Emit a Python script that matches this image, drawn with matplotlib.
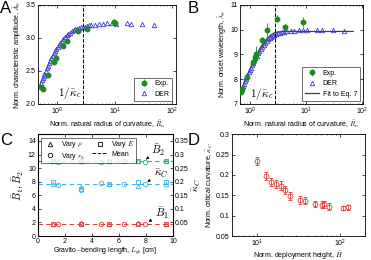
import numpy as np
import matplotlib.pyplot as plt

plt.rcParams['font.family'] = ['Liberation Sans', 'DejaVu Sans']
plt.rcParams['mathtext.fontset'] = 'cm'
plt.rcParams['font.size'] = 5

# panel A
a_exp_x = [0.53, 0.56, 0.69, 0.87, 0.97, 1.25, 1.49, 2.3, 3.25, 9.7, 10.0]
a_exp_y = [2.26, 2.23, 2.44, 2.64, 2.70, 2.88, 2.96, 3.10, 3.14, 3.24, 3.22]
a_exp_err = [0.03, 0.03, 0.03, 0.04, 0.03, 0.03, 0.04, 0.03, 0.03, 0.04, 0.03]
a_der_x = [0.50, 0.52, 0.54, 0.56, 0.58, 0.60, 0.63, 0.66, 0.69, 0.72, 0.75, 0.79,
           0.83, 0.87, 0.91, 0.96, 1.01, 1.07, 1.13, 1.20, 1.28, 1.36, 1.45, 1.55,
           1.66, 1.78, 1.92, 2.07, 2.23, 2.41, 2.60, 2.80, 3.00, 3.25, 3.55, 3.9,
           4.5, 5.4, 6.2, 7.4, 8.9, 10.4, 16, 19, 30, 48]
a_der_y = [2.28, 2.32, 2.36, 2.40, 2.43, 2.46, 2.50, 2.54, 2.58, 2.62, 2.65, 2.69,
           2.73, 2.77, 2.80, 2.84, 2.87, 2.90, 2.93, 2.96, 2.99, 3.01, 3.04, 3.06,
           3.08, 3.10, 3.12, 3.13, 3.14, 3.15, 3.16, 3.17, 3.17, 3.18, 3.19, 3.19,
           3.20, 3.21, 3.21, 3.22, 3.22, 3.21, 3.22, 3.21, 3.21, 3.20]

# panel B
b_exp_x = [0.70, 0.73, 0.91, 1.15, 1.26, 1.30, 1.65, 2.0, 3.07, 4.25, 8.9]
b_exp_y = [7.50, 7.60, 8.10, 8.70, 8.90, 9.00, 9.60, 9.97, 10.45, 10.12, 10.32]
b_exp_err = [0.08, 0.08, 0.08, 0.15, 0.2, 0.35, 0.12, 0.3, 0.15, 0.12, 0.2]
b_der_x = [0.72, 0.75, 0.78, 0.81, 0.84, 0.87, 0.91, 0.95, 0.99, 1.04, 1.09, 1.14,
           1.20, 1.26, 1.33, 1.40, 1.48, 1.57, 1.66, 1.76, 1.87, 1.99, 2.12, 2.26,
           2.41, 2.57, 2.75, 2.95, 3.17, 3.4, 3.7, 4.0,
           4.5, 5.4, 6.2, 7.4, 8.9, 10.4, 16, 19, 30, 48]
b_der_y = [7.62, 7.72, 7.82, 7.91, 8.00, 8.08, 8.18, 8.28, 8.37, 8.47, 8.57, 8.66,
           8.76, 8.85, 8.95, 9.04, 9.13, 9.22, 9.31, 9.39, 9.47, 9.54, 9.61, 9.67,
           9.72, 9.76, 9.80, 9.83, 9.85, 9.87, 9.89, 9.90,
           9.93, 9.95, 9.96, 9.98, 9.98, 10.0, 10.0, 9.99, 9.97, 9.95]
b_fit_x = [0.70, 0.8, 0.9, 1.0, 1.2, 1.4, 1.6, 1.8, 2.0, 2.3, 2.6, 3.0, 3.5, 4.0, 5.0, 70]
b_fit_y = [7.55, 7.88, 8.15, 8.40, 8.80, 9.10, 9.33, 9.50, 9.63, 9.76, 9.85, 9.90, 9.92, 9.93, 9.93, 9.93]
kc_inv = 2.8

# panel C
c_x_rho = [1.1, 3.2, 5.3, 7.4, 9.5]
c_x_E = [1.1, 3.2, 5.3, 7.4, 9.5]
c_x_r0 = [1.5, 3.2, 4.7, 6.4, 7.9]
b1_rho = [1.8, 1.9, 1.8, 1.9, 1.8]
b1_E = [1.8, 1.8, 1.8, 1.8, 1.8]
b1_r0 = [1.75, 1.8, 1.75, 1.8, 1.75]
b2_rho = [11.0, 11.1, 11.0, 11.1, 11.0]
b2_E = [11.0, 11.0, 11.0, 11.0, 11.0]
b2_r0 = [10.95, 11.0, 10.95, 11.0, 10.95]
kc_rho = [0.190, 0.180, 0.193, 0.183, 0.190]
kc_E = [0.198, 0.173, 0.192, 0.200, 0.200]
kc_r0 = [0.188, 0.170, 0.195, 0.190, 0.190]
b1_mean, b2_mean, kc_mean = 1.8, 11.0, 0.19

# panel D
d_H = [10, 12.8, 14.7, 16.8, 19.4, 21.9, 25.1, 33.1, 38, 50, 61, 65, 74, 109, 126]
d_kc = [0.235, 0.197, 0.183, 0.178, 0.174, 0.163, 0.148, 0.138, 0.137, 0.129,
        0.127, 0.128, 0.122, 0.119, 0.121]
d_err = [0.010, 0.010, 0.010, 0.010, 0.010, 0.010, 0.010, 0.010, 0.008, 0.008,
         0.008, 0.008, 0.008, 0.006, 0.006]

green = '#1a8c1a'
blue = '#3a3ad0'
red = '#e03c3c'
cgreen = '#2db36a'
cyan = '#3cb4e6'

fig = plt.figure(figsize=(3.71, 2.60), dpi=100)


def style(ax):
    ax.tick_params(direction='in', length=2, width=0.5, top=True, right=True, pad=1.5, labelsize=5)
    ax.tick_params(which='minor', direction='in', length=1, width=0.4, top=True, right=True)
    for s in ax.spines.values():
        s.set_linewidth(0.6)


# A
ax = fig.add_axes([0.102, 0.60, 0.372, 0.381])
ax.plot(a_der_x, a_der_y, '^', mfc='none', mec=blue, ms=3.2, mew=0.6, label='DER', zorder=2)
ax.errorbar(a_exp_x, a_exp_y, yerr=a_exp_err, fmt='o', color=green, ms=3.2, elinewidth=0.6,
            capsize=0, label='Exp.', zorder=3)
ax.axvline(kc_inv, color='k', ls='--', lw=0.7)
ax.text(kc_inv * 0.95, 2.04, r'$1/\bar{\kappa}_c$', fontsize=8, ha='right', va='bottom')
ax.set_xscale('log')
ax.set_xlim(0.46, 115)
ax.set_ylim(2, 3.5)
ax.set_yticks([2, 2.5, 3, 3.5])
ax.set_xlabel(r'Norm. natural radius of curvature, $\bar{R}_n$', labelpad=1)
ax.set_ylabel(r'Norm. characteristic amplitude, $\bar{A}_0$', labelpad=1)
h, l = ax.get_legend_handles_labels()
ax.legend(h[::-1], l[::-1], loc='lower right', fontsize=5, frameon=True, fancybox=False,
          edgecolor='k', handletextpad=0.5, borderpad=0.4).get_frame().set_linewidth(0.5)
style(ax)
fig.text(0.0, 0.995, 'A', fontsize=12, va='top')

# B
ax = fig.add_axes([0.647, 0.60, 0.332, 0.381])
ax.plot(b_fit_x, b_fit_y, '-', color='#404040', lw=0.9, label='Fit to Eq. 7', zorder=1)
ax.plot(b_der_x, b_der_y, '^', mfc='none', mec=blue, ms=3.2, mew=0.6, label='DER', zorder=2)
ax.errorbar(b_exp_x, b_exp_y, yerr=b_exp_err, fmt='o', color=green, ms=3.2, elinewidth=0.6,
            capsize=0, label='Exp.', zorder=3)
ax.axvline(kc_inv, color='k', ls='--', lw=0.7)
ax.text(kc_inv * 0.95, 7.1, r'$1/\bar{\kappa}_c$', fontsize=8, ha='right', va='bottom')
ax.set_xscale('log')
ax.set_xlim(0.67, 105)
ax.set_ylim(7, 11)
ax.set_yticks([7, 8, 9, 10, 11])
ax.set_xlabel(r'Norm. natural radius of curvature, $\bar{R}_n$', labelpad=1)
ax.set_ylabel(r'Norm. onset wavelength, $\bar{\lambda}_0$', labelpad=1)
h, l = ax.get_legend_handles_labels()
ax.legend(h[::-1], l[::-1], loc='lower right', fontsize=5, frameon=True, fancybox=False,
          edgecolor='k', handletextpad=0.5, borderpad=0.4).get_frame().set_linewidth(0.5)
style(ax)
fig.text(0.505, 0.995, 'B', fontsize=12, va='top')

# C
ax = fig.add_axes([0.102, 0.092, 0.364, 0.392])
ax2 = ax.twinx()
ax.axhline(b1_mean, color=red, ls='--', lw=0.8, dashes=(4, 3))
ax.axhline(b2_mean, color=cgreen, ls='--', lw=0.8, dashes=(4, 3))
ax2.axhline(kc_mean, color=cyan, ls='--', lw=0.8, dashes=(4, 3))
for col, axx, yr, ye, y0 in [(red, ax, b1_rho, b1_E, b1_r0), (cgreen, ax, b2_rho, b2_E, b2_r0),
                             (cyan, ax2, kc_rho, kc_E, kc_r0)]:
    axx.plot(c_x_rho, yr, '^', mfc='none', mec=col, ms=3.2, mew=0.6)
    axx.plot(c_x_E, ye, 's', mfc='none', mec=col, ms=3.0, mew=0.6)
    axx.plot(c_x_r0, y0, 'o', mfc='none', mec=col, ms=3.2, mew=0.6)
ax.set_xlim(0, 10)
ax.set_ylim(0, 15)
ax.set_yticks(range(0, 15, 2))
ax2.set_ylim(0, 0.375)
ax2.set_yticks([0.05, 0.1, 0.15, 0.2, 0.25, 0.3, 0.35])
ax2.set_yticklabels(['0.05', '0.1', '0.15', '0.2', '0.25', '0.3', '0.35'])
ax.set_xlabel(r'Gravito$-$bending length, $L_{gb}$ [cm]', labelpad=0.5)
ax.set_ylabel(r'$\bar{B}_1, \bar{B}_2$', fontsize=7.5, labelpad=1)
ax2.set_ylabel(r'$\bar{\kappa}_C$', fontsize=7.5, labelpad=1)
lh = [plt.Line2D([], [], ls='none', marker='^', mfc='none', mec='k', ms=3.2, mew=0.6),
      plt.Line2D([], [], ls='none', marker='o', mfc='none', mec='k', ms=3.2, mew=0.6),
      plt.Line2D([], [], ls='none', marker='s', mfc='none', mec='k', ms=3.0, mew=0.6),
      plt.Line2D([], [], ls='--', color='k', lw=0.7)]
lab = [r'Vary $\rho$', r'Vary $r_0$', r'Vary $E$', 'Mean']
ax.legend(lh, lab, ncol=2, loc='upper left', fontsize=5, frameon=True, fancybox=False,
          edgecolor='k', handlelength=2.2, handletextpad=0.5, borderpad=0.2, labelspacing=0.1,
          columnspacing=1.0, bbox_to_anchor=(0.0, 1.0)).get_frame().set_linewidth(0.5)
ax.annotate(r'$\bar{B}_2$', xy=(8.0, 11.3), xytext=(8.4, 12.0), fontsize=8,
            arrowprops=dict(arrowstyle='-|>', lw=0.5, color='k', mutation_scale=4))
ax.annotate(r'$\bar{\kappa}_C$', xy=(8.1, 8.0), xytext=(8.6, 8.8), fontsize=8,
            arrowprops=dict(arrowstyle='-|>', lw=0.5, color='k', mutation_scale=4))
ax.annotate(r'$\bar{B}_1$', xy=(8.2, 2.1), xytext=(8.7, 2.8), fontsize=8,
            arrowprops=dict(arrowstyle='-|>', lw=0.5, color='k', mutation_scale=4))
style(ax)
ax.tick_params(right=False)
ax2.tick_params(direction='in', length=2, width=0.5, pad=1.5, labelsize=5)
fig.text(0.0, 0.49, 'C', fontsize=12, va='top')

# D
ax = fig.add_axes([0.625, 0.092, 0.358, 0.392])
ax.errorbar(d_H, d_kc, yerr=d_err, fmt='o', mfc='none', mec=red, color=red, ms=3.5, mew=0.6,
            elinewidth=0.6, capsize=1.2, capthick=0.6)
ax.set_xscale('log')
ax.set_xlim(5, 200)
ax.set_ylim(0.05, 0.3)
ax.set_yticks([0.05, 0.1, 0.15, 0.2, 0.25, 0.3])
ax.set_yticklabels(['0.05', '0.1', '0.15', '0.2', '0.25', '0.3'])
ax.set_xlabel(r'Norm. deployment height, $\bar{H}$', labelpad=0.5)
ax.set_ylabel(r'Norm. critical curvature, $\bar{\kappa}_C$', labelpad=1)
style(ax)
fig.text(0.505, 0.49, 'D', fontsize=12, va='top')

fig.savefig('out.png', dpi=100)
